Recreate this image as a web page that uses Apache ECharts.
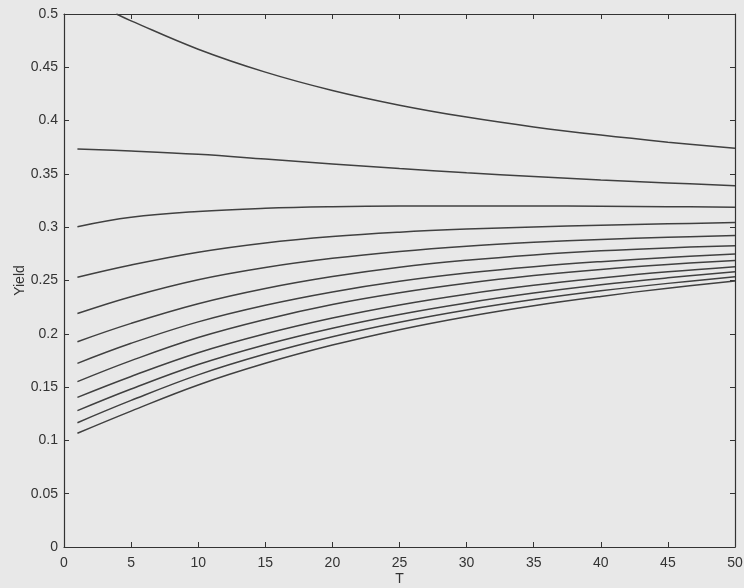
<!DOCTYPE html>
<html>
<head>
<meta charset="utf-8">
<script src="https://cdn.jsdelivr.net/npm/echarts@6/dist/echarts.min.js"></script>
<style>
html,body{margin:0;padding:0;background:#e8e8e8;}
#chart{width:744px;height:588px;}
</style>
</head>
<body>
<div id="chart"></div>
<script>
// Maturities T at which the curves were read
const T = [1, 5, 10, 15, 20, 25, 30, 35, 40, 45, 50];
// Top curve enters the plot at the upper limit near T = 3.9
const T_top = [3.9, 5, 10, 15, 20, 25, 30, 35, 40, 45, 50];
const curveTop = [0.5, 0.4936, 0.467, 0.4455, 0.4283, 0.4145, 0.4033, 0.3941, 0.3864, 0.3798, 0.374];
const curve2  = [0.3734, 0.3715, 0.3684, 0.3640, 0.3594, 0.3550, 0.3511, 0.3475, 0.3443, 0.3415, 0.339];
const curve3  = [0.3005, 0.3093, 0.3148, 0.3178, 0.3193, 0.3199, 0.3200, 0.3199, 0.3196, 0.3192, 0.3188];
const curve4  = [0.253, 0.2645, 0.2765, 0.2852, 0.2912, 0.2953, 0.2982, 0.3003, 0.3019, 0.3032, 0.3043];
const curve5  = [0.219, 0.2348, 0.2507, 0.2622, 0.2708, 0.2773, 0.2822, 0.2858, 0.2885, 0.2905, 0.2922];
const curve6  = [0.1926, 0.2098, 0.2282, 0.2425, 0.2537, 0.2625, 0.2690, 0.2740, 0.2778, 0.2806, 0.2827];
const curve7  = [0.1723, 0.1911, 0.2112, 0.2268, 0.2393, 0.2493, 0.2570, 0.2630, 0.2677, 0.2716, 0.2749];
const curve8  = [0.1551, 0.1748, 0.1965, 0.2135, 0.2275, 0.2385, 0.2474, 0.2546, 0.2604, 0.2650, 0.2688];
const curve9  = [0.1404, 0.1600, 0.1822, 0.2000, 0.2148, 0.2271, 0.2372, 0.2455, 0.2523, 0.2582, 0.2630];
const curve10 = [0.1279, 0.1482, 0.1712, 0.1898, 0.2053, 0.2182, 0.2290, 0.2382, 0.2460, 0.2525, 0.2582];
const curve11 = [0.1166, 0.1375, 0.1615, 0.1810, 0.1973, 0.2109, 0.2224, 0.2321, 0.2403, 0.2473, 0.2535];
const curve12 = [0.1067, 0.1275, 0.1520, 0.1723, 0.1894, 0.2039, 0.2161, 0.2264, 0.2351, 0.2428, 0.2495];

const lowerCurves = [curve2, curve3, curve4, curve5, curve6, curve7, curve8, curve9, curve10, curve11, curve12];

const lineColor = '#404040';
const font = 'Liberation Sans, Arial, Helvetica, sans-serif';

function mkSeries(xs, ys) {
  return {
    type: 'line',
    data: xs.map((x, i) => [x, ys[i]]),
    showSymbol: false,
    smooth: 0.4,
    clip: true,
    lineStyle: { color: lineColor, width: 1.5 },
    silent: true
  };
}

const series = [mkSeries(T_top, curveTop)].concat(lowerCurves.map(c => mkSeries(T, c)));

const axisLine = { show: true, onZero: false, lineStyle: { color: '#333', width: 1.2 } };
const tick = { show: true, inside: true, length: 5, lineStyle: { color: '#333', width: 1 } };

const chart = echarts.init(document.getElementById('chart'), null, { renderer: 'canvas' });
chart.setOption({
  backgroundColor: '#e8e8e8',
  animation: false,
  grid: { left: 64, right: 9, top: 14, bottom: 41, containLabel: false, outerBoundsMode: 'none' },
  xAxis: [
    {
      type: 'value', min: 0, max: 50, interval: 5, position: 'bottom',
      name: 'T', nameLocation: 'middle', nameGap: 25, nameMoveOverlap: false,
      nameTextStyle: { fontFamily: font, fontSize: 14, color: '#333' },
      axisLine: axisLine, axisTick: tick,
      axisLabel: { fontFamily: font, fontSize: 14, color: '#333', margin: 9 },
      splitLine: { show: false }
    },
    {
      type: 'value', min: 0, max: 50, interval: 5, position: 'top',
      axisLine: axisLine, axisTick: tick, axisLabel: { show: false }, splitLine: { show: false }
    }
  ],
  yAxis: [
    {
      type: 'value', min: 0, max: 0.5, interval: 0.05, position: 'left',
      name: 'Yield', nameLocation: 'middle', nameGap: 37, nameRotate: 90, nameMoveOverlap: false,
      nameTextStyle: { fontFamily: font, fontSize: 14, color: '#333' },
      axisLine: axisLine, axisTick: tick,
      axisLabel: { fontFamily: font, fontSize: 14, color: '#333', margin: 6 },
      splitLine: { show: false }
    },
    {
      type: 'value', min: 0, max: 0.5, interval: 0.05, position: 'right',
      axisLine: axisLine, axisTick: tick, axisLabel: { show: false }, splitLine: { show: false }
    }
  ],
  series: series
});
</script>
</body>
</html>
